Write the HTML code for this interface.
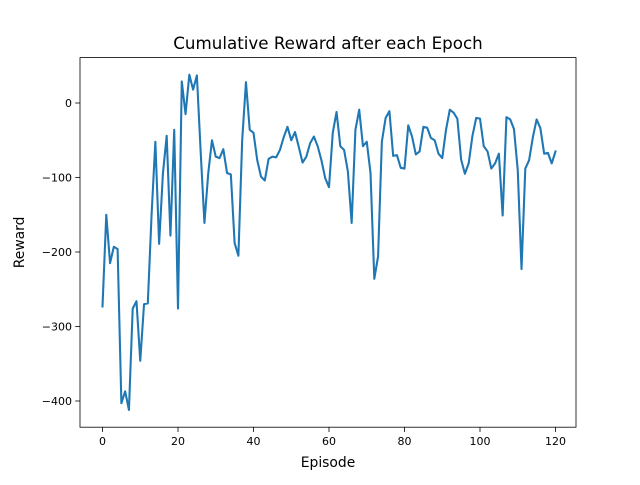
<!DOCTYPE html>
<html><head><meta charset="utf-8"><style>
body{margin:0;background:#fff}
svg text{font-family:"DejaVu Sans","Liberation Sans",sans-serif;fill:#000}
</style></head><body>
<svg id="chart" width="640" height="480" viewBox="0 0 640 480">
<rect width="640" height="480" fill="#fff"/>
<text x="328" y="49" font-size="16.7" text-anchor="middle">Cumulative Reward after each Epoch</text>
<g id="ticks"></g>
<path id="line" fill="none" stroke="#1f77b4" stroke-width="2.08" stroke-linejoin="round" stroke-linecap="square"/>
<rect x="80" y="57.6" width="496" height="369.6" fill="none" stroke="#000" stroke-width="0.8"/>
<text x="328" y="467" font-size="13.9" text-anchor="middle">Episode</text>
<text transform="translate(24,242.4) rotate(-90)" font-size="13.9" text-anchor="middle">Reward</text>
</svg>
<script>
const rewards=[-273,-150,-215,-193,-196,-403,-387,-412,-276,-266,-346,-270,-269,-150,-52,-189,-95,-44,-178,-36,-276,29,-15,38,18,37,-65,-161,-95,-50,-72,-74,-62,-94,-96,-188,-205,-50,28,-36,-40,-77,-99,-104,-75,-72,-73,-63,-46,-32,-50,-39,-59,-80,-72,-54,-45,-58,-77,-101,-113,-40,-12,-58,-63,-92,-161,-36,-9,-58,-52,-94,-236,-206,-52,-20,-11,-71,-70,-87,-88,-30,-45,-69,-65,-32,-33,-47,-50,-68,-74,-36,-9,-13,-21,-76,-95,-81,-44,-20,-21,-58,-65,-88,-81,-68,-151,-19,-22,-35,-90,-223,-88,-77,-46,-22,-34,-68,-67,-81,-65];
const xTicks=[0,20,40,60,80,100,120];
const yTicks=[-400,-300,-200,-100,0];
const X=v=>102.5+v*(555.5-102.5)/120;
const Y=v=>103+(-v)*(401-103)/400;
const ns="http://www.w3.org/2000/svg";
const line=document.getElementById('line');
line.setAttribute('d',rewards.map((v,i)=>(i?'L':'M')+X(i).toFixed(2)+','+Y(v).toFixed(2)).join(''));
const g=document.getElementById('ticks');
xTicks.forEach(t=>{
 const l=document.createElementNS(ns,'line');
 l.setAttribute('x1',X(t));l.setAttribute('x2',X(t));l.setAttribute('y1',427.2);l.setAttribute('y2',432);l.setAttribute('stroke','#000');l.setAttribute('stroke-width','0.8');
 
 
 g.appendChild(l);
 const s=document.createElementNS(ns,'text');
 s.setAttribute('x',X(t));s.setAttribute('y',445);s.setAttribute('font-size','11');s.setAttribute('text-anchor','middle');s.textContent=t;
 
 
 g.appendChild(s);
});
yTicks.forEach(t=>{
 const l=document.createElementNS(ns,'line');
 l.setAttribute('x1',75.2);l.setAttribute('x2',80);l.setAttribute('y1',Y(t));l.setAttribute('y2',Y(t));l.setAttribute('stroke','#000');l.setAttribute('stroke-width','0.8');
 
 
 g.appendChild(l);
 const s=document.createElementNS(ns,'text');
 s.setAttribute('x',72);s.setAttribute('y',Y(t)+4);s.setAttribute('font-size','11');s.setAttribute('text-anchor','end');s.textContent=t<0?'\u2212'+(-t):t;
 
 
 g.appendChild(s);
});
</script>
</body></html>
